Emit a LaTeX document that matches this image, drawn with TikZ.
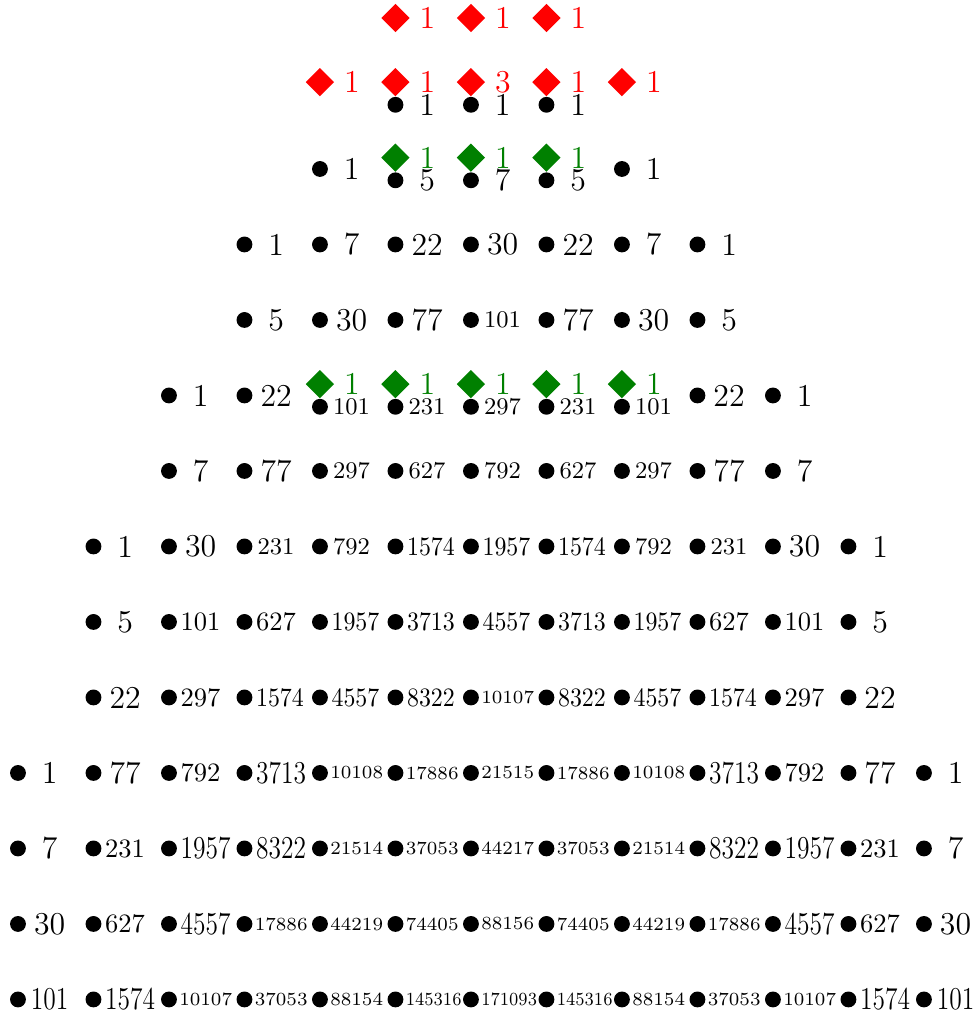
\documentclass[tikz,border=0pt]{standalone}
\usepackage{tikz}
\usetikzlibrary{shapes.geometric, positioning}

\definecolor{gemgreen}{RGB}{0,128,0}
\newcommand{\sqf}{1}
% one row of dots with their counts
\newcommand{\numrow}[3]{%
  \foreach \c/\v/\s in {#3} {
    \node[dot] (d-#1-\c) at (\c,-#1+#2) {};
    \node[\s, right=0pt of d-#1-\c] (t-#1-\c) {\scalebox{\sqf}[1]{\v}};
  }}

\begin{document}
\begin{tikzpicture}[
    dot/.style={circle, fill=black, inner sep=0pt, minimum size=0.21cm},
    gem/.style={diamond, inner sep=0pt, minimum size=0.38cm},
    squeeze/.code={\def\sqf{#1}},
    num/.style={inner sep=1pt, minimum width=0.6cm, squeeze=1},
    nA/.style={num, font=\large},
    nB/.style={num, font=\small},
    nF/.style={num, font=\normalsize},
    nC/.style={num, font=\normalsize, squeeze=0.9},
    nD/.style={num, font=\large, squeeze=0.8},
    nE/.style={num, inner sep=0.5pt, font=\scriptsize},
    nG/.style={nE, squeeze=0.88},
    glbl/.style={inner sep=1pt, minimum width=0.44cm, font=\large}
]
    \useasboundingbox (-0.238,0.238) rectangle (12.676,-13.206);

    % Diamonds
    \foreach \r/\dy/\c/\v/\col in {0/0/5/1/red, 0/0/6/1/red, 0/0/7/1/red,
        1/0.15/4/1/red, 1/0.15/5/1/red, 1/0.15/6/3/red, 1/0.15/7/1/red, 1/0.15/8/1/red,
        2/0.15/5/1/gemgreen, 2/0.15/6/1/gemgreen, 2/0.15/7/1/gemgreen,
        5/0.15/4/1/gemgreen, 5/0.15/5/1/gemgreen, 5/0.15/6/1/gemgreen,
        5/0.15/7/1/gemgreen, 5/0.15/8/1/gemgreen} {
        \node[gem, fill=\col] (q-\r-\c) at (\c,-\r+\dy) {};
        \node[glbl, text=\col, right=0pt of q-\r-\c] (s-\r-\c) {\v};
    }

    % Dots
    \numrow{1}{-0.15}{5/1/nA, 6/1/nA, 7/1/nA}
    \numrow{2}{0}{4/1/nA, 8/1/nA}
    \numrow{2}{-0.15}{5/5/nA, 6/7/nA, 7/5/nA}
    \numrow{3}{0}{3/1/nA, 4/7/nA, 5/22/nA, 6/30/nA, 7/22/nA, 8/7/nA, 9/1/nA}
    \numrow{4}{0}{3/5/nA, 4/30/nA, 5/77/nA, 6/101/nB, 7/77/nA, 8/30/nA, 9/5/nA}
    \numrow{5}{0}{2/1/nA, 3/22/nA, 9/22/nA, 10/1/nA}
    \numrow{5}{-0.15}{4/101/nB, 5/231/nB, 6/297/nB, 7/231/nB, 8/101/nB}
    \numrow{6}{0}{2/7/nA, 3/77/nA, 4/297/nB, 5/627/nB, 6/792/nB, 7/627/nB, 8/297/nB,
        9/77/nA, 10/7/nA}
    \numrow{7}{0}{1/1/nA, 2/30/nA, 3/231/nB, 4/792/nB, 5/1574/nC, 6/1957/nC, 7/1574/nC,
        8/792/nB, 9/231/nB, 10/30/nA, 11/1/nA}
    \numrow{8}{0}{1/5/nA, 2/101/nF, 3/627/nF, 4/1957/nC, 5/3713/nC, 6/4557/nC, 7/3713/nC,
        8/1957/nC, 9/627/nF, 10/101/nF, 11/5/nA}
    \numrow{9}{0}{1/22/nA, 2/297/nF, 3/1574/nC, 4/4557/nC, 5/8322/nC, 6/10107/nE,
        7/8322/nC, 8/4557/nC, 9/1574/nC, 10/297/nF, 11/22/nA}
    \numrow{10}{0}{0/1/nA, 1/77/nA, 2/792/nF, 3/3713/nD, 4/10108/nE, 5/17886/nE,
        6/21515/nE, 7/17886/nE, 8/10108/nE, 9/3713/nD, 10/792/nF, 11/77/nA, 12/1/nA}
    \numrow{11}{0}{0/7/nA, 1/231/nF, 2/1957/nD, 3/8322/nD, 4/21514/nE, 5/37053/nE,
        6/44217/nE, 7/37053/nE, 8/21514/nE, 9/8322/nD, 10/1957/nD, 11/231/nF, 12/7/nA}
    \numrow{12}{0}{0/30/nA, 1/627/nF, 2/4557/nD, 3/17886/nE, 4/44219/nE, 5/74405/nE,
        6/88156/nE, 7/74405/nE, 8/44219/nE, 9/17886/nE, 10/4557/nD, 11/627/nF, 12/30/nA}
    \numrow{13}{0}{0/101/nD, 1/1574/nD, 2/10107/nE, 3/37053/nE, 4/88154/nE, 5/145316/nG,
        6/171093/nG, 7/145316/nG, 8/88154/nE, 9/37053/nE, 10/10107/nE, 11/1574/nD, 12/101/nD}
\end{tikzpicture}
\end{document}
